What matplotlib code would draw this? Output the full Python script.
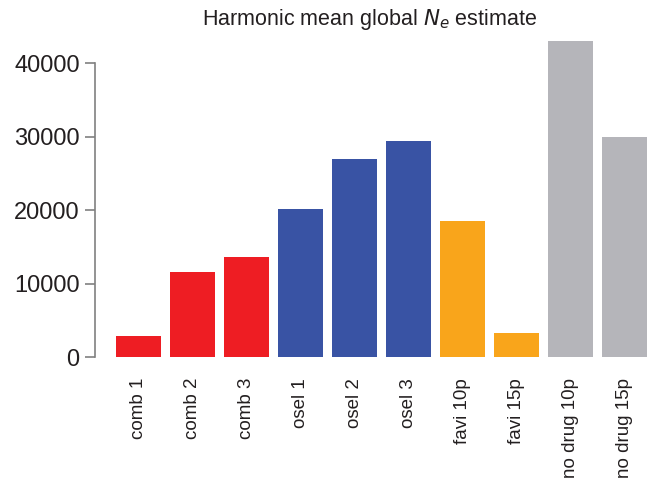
import numpy as np
import matplotlib.pyplot as plt

plt.rcParams['font.family'] = ['Liberation Sans', 'DejaVu Sans']

etiquetas = ['comb 1', 'comb 2', 'comb 3', 'osel 1', 'osel 2', 'osel 3',
             'favi 10p', 'favi 15p', 'no drug 10p', 'no drug 15p']
valores = [2850, 11550, 13600, 20150, 26900, 29400, 18500, 3250, 43000, 29950]
colores = ['#EE1D23'] * 3 + ['#3953A4'] * 3 + ['#F9A51B'] * 2 + ['#B5B5BA'] * 2

fig = plt.figure(figsize=(6.49, 4.78), dpi=100)
# ejes colocados en pixeles: izquierda 95, derecha 649, abajo 357, arriba 41
ax = fig.add_axes([95 / 649, (478 - 357) / 478, (649 - 95) / 649, (357 - 41) / 478])

x = np.arange(len(etiquetas))
ax.bar(x, valores, width=0.83, color=colores, linewidth=0)

ax.set_xlim(-0.806, 9.45)
ax.set_ylim(0, 43000)

for lado in ['top', 'right', 'bottom']:
    ax.spines[lado].set_visible(False)
ax.spines['left'].set_bounds(0, 40000)
ax.spines['left'].set_color('#808080')
ax.spines['left'].set_linewidth(1.2)

ax.set_yticks([0, 10000, 20000, 30000, 40000])
ax.tick_params(axis='y', length=7, width=1.2, color='#808080', labelsize=17,
               labelcolor='#231F20', pad=4)
ax.set_xticks(x)
ax.set_xticklabels(etiquetas, rotation=90, fontsize=13.5, color='#231F20')
ax.tick_params(axis='x', length=0, pad=15)

fig.text(370 / 649, 1 - 20 / 478, r'Harmonic mean global $N_e$ estimate',
         ha='center', va='center', fontsize=15.5, color='#231F20')

fig.savefig('out.png', dpi=100)
